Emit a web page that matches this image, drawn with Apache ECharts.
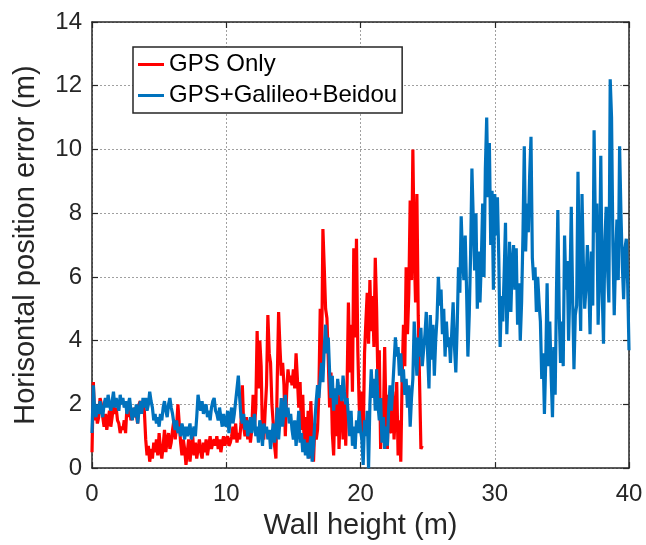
<!DOCTYPE html>
<html>
<head>
<meta charset="utf-8">
<script src="https://cdn.jsdelivr.net/npm/echarts@6/dist/echarts.min.js"></script>
<style>
html,body{margin:0;padding:0;background:#fff;}
#chart{width:646px;height:545px;}
</style>
</head>
<body>
<div id="chart"></div>
<script>
// Wall height sampling step (m)
const wallHeightStep = 0.1;

const seriesNames = ['GPS Only', 'GPS+Galileo+Beidou'];

// Horizontal position error (m), GPS only, wall height 0 .. 24.6 m
const gpsOnly = [
  0.5, 2.7, 1.5, 1.8, 1.4, 1.6, 2.2, 2.0, 1.6, 1.3,
  1.7, 1.2, 1.5, 1.8, 1.3, 1.6, 2.0, 1.7, 1.9, 1.5,
  1.4, 1.1, 1.3, 1.2, 1.5, 1.1, 1.9, 1.6, 2.0, 1.5,
  1.8, 1.6, 1.9, 1.7, 1.4, 2.0, 2.1, 1.9, 2.0, 1.8,
  0.9, 0.4, 0.7, 0.2, 0.6, 0.3, 0.8, 0.5, 0.9, 0.4,
  1.1, 0.6, 0.3, 0.7, 1.2, 0.5, 0.9, 1.1, 0.6, 0.8,
  1.2, 1.5, 0.9, 1.3, 2.0, 1.4, 0.8, 0.4, 0.9, 0.6,
  0.1, 0.5, 0.9, 0.2, 0.7, 1.0, 0.4, 0.8, 0.3, 0.6,
  0.9, 0.5, 0.3, 0.8, 0.5, 0.9, 0.4, 0.7, 1.0, 0.6,
  0.8, 0.9, 0.7, 1.0, 0.6, 0.9, 0.5, 0.8, 1.0, 0.7,
  0.9, 1.0, 0.7, 0.8, 1.0, 1.3, 0.9, 1.4, 0.8, 1.1,
  0.9, 1.4, 2.6, 1.3, 1.0, 1.6, 0.9, 1.5, 0.8, 1.2,
  2.3, 1.3, 1.9, 4.3, 2.5, 4.0, 3.2, 1.0, 0.9, 1.8,
  2.6, 4.8, 3.6, 3.3, 2.0, 1.4, 0.7, 0.3, 2.8, 4.9,
  3.8, 2.9, 3.3, 2.6, 1.0, 2.4, 3.1, 2.7, 2.9, 2.6,
  3.1, 2.5, 3.6, 2.8, 1.9, 2.7, 1.2, 2.3, 0.8, 1.6,
  0.5, 1.8, 0.3, 2.1, 1.0, 0.2, 1.4, 0.9, 1.2, 2.4,
  5.0, 3.2, 7.5, 6.3, 5.0, 4.7, 3.4, 1.9, 3.0, 1.1,
  0.4, 2.2, 1.0, 2.7, 0.6, 1.8, 2.5, 0.9, 2.1, 0.7,
  2.6, 5.2, 3.0, 4.5, 2.4, 6.9, 4.1, 7.2, 3.7, 2.0,
  1.1, 2.4, 0.8, 3.6, 4.6, 5.5, 3.9, 5.9, 4.3, 5.4,
  3.8, 6.6, 5.0, 2.6, 3.7, 0.6, 2.2, 1.4, 3.8, 1.6,
  0.6, 2.3, 1.2, 1.1, 2.4, 0.9, 1.8, 2.7, 0.4, 1.5,
  0.2, 2.8, 4.5, 3.2, 6.3, 4.2, 5.5, 8.4, 5.9, 10.0,
  6.9, 5.2, 8.6, 4.8, 2.7, 0.6, 0.7
];

// Horizontal position error (m), GPS+Galileo+Beidou, wall height 0 .. 40 m
const gpsGalBei = [
  1.1, 2.6, 1.8, 1.6, 2.0, 1.7, 2.1, 1.8, 1.6, 2.0,
  2.2, 1.9, 2.3, 2.0, 1.8, 2.1, 2.4, 1.9, 2.2, 2.0,
  1.8, 2.3, 2.0, 2.2, 1.9, 2.1, 1.7, 2.0, 2.2, 1.8,
  1.5, 1.9, 1.6, 2.0, 1.4, 1.8, 2.1, 1.7, 2.2, 1.9,
  2.2, 1.8, 2.0, 2.4, 2.1, 1.9, 1.5, 1.7, 1.4, 1.6,
  1.3, 1.7, 1.5, 1.9, 2.1, 1.8, 1.6, 2.0, 2.2, 1.9,
  1.7, 1.4, 1.2, 1.5, 1.1, 1.3, 1.0, 1.4, 1.2, 0.9,
  1.3, 1.0, 1.2, 1.4, 0.9, 1.1, 1.3, 1.0, 1.6, 2.3,
  2.0, 1.8, 2.1, 1.7, 1.9, 2.0, 1.6, 1.8, 1.5, 1.9,
  2.1, 2.2, 1.8, 1.7, 1.5, 1.9, 1.6, 1.3, 1.7, 1.4,
  1.3, 1.8, 1.1, 1.6, 1.9, 1.4, 1.7, 2.1, 2.5, 2.9,
  2.2, 1.6, 1.4, 1.7, 1.2, 1.5, 1.0, 1.3, 1.6, 1.1,
  1.4, 1.7, 1.0, 1.3, 0.8, 1.5, 1.2, 0.7, 1.4, 1.1,
  1.3, 0.9, 1.2, 0.6, 1.0, 1.4, 0.8, 1.2, 1.9, 0.9,
  1.5, 2.2, 1.3, 1.8, 2.3, 1.6, 1.9, 1.4, 1.7, 1.2,
  0.9, 1.5, 0.7, 1.2, 1.8, 0.8, 1.1, 0.5, 0.9, 0.4,
  0.8, 0.3, 0.6, 1.0, 0.2, 0.7, 1.5, 2.1, 2.6, 2.2,
  2.8, 3.3, 2.7, 3.8, 4.5, 3.6, 4.1, 3.0, 2.2, 2.9,
  1.8, 2.5, 2.0, 2.8, 2.3, 2.6, 2.1, 2.9, 2.4, 2.0,
  2.2, 1.6, 1.0, 1.8, 0.7, 1.3, 0.6, 1.5, 1.1, 1.8,
  1.2, 0.9, 0.1, 1.5, 1.0, 1.8, 0.0, 2.0, 3.1, 2.2,
  2.8, 1.8, 3.1, 2.0, 1.5, 2.2, 0.8, 1.6, 0.6, 1.3,
  0.7, 1.9, 2.6, 1.8, 2.5, 3.3, 4.1, 3.5, 3.8, 2.9,
  3.6, 2.7, 3.1, 2.3, 2.8, 1.9, 2.6, 1.3, 2.2, 2.8,
  4.6, 3.8, 2.9, 4.1, 3.5, 4.4, 3.2, 3.7, 4.2, 4.9,
  3.6, 2.5, 4.8, 3.4, 4.5, 2.9, 4.0, 4.7, 6.0, 5.1,
  5.6, 4.2, 5.0, 3.5, 4.6, 3.8, 4.1, 3.3, 4.3, 5.2,
  3.8, 3.0, 4.4, 6.3, 5.5, 7.9, 6.6, 5.9, 7.3, 5.6,
  3.5, 4.8, 6.7, 9.4, 7.8, 6.2, 8.0, 5.0, 6.8, 5.2,
  6.5, 8.3, 6.0, 9.4, 11.0, 8.5, 10.2, 7.0, 8.7, 5.6,
  8.6, 7.3, 8.5, 6.6, 3.8, 5.4, 4.6, 6.1, 7.7, 4.2,
  5.5, 7.1, 4.9, 6.4, 7.0, 5.6, 6.9, 4.5, 5.8, 4.0,
  5.2, 7.3, 10.1, 6.8, 8.3, 7.4, 9.2, 10.4, 6.6, 5.9,
  6.3, 4.9, 6.0, 5.2, 4.6, 2.8, 3.6, 1.7, 3.4, 5.8,
  3.2, 4.6, 2.9, 1.6, 3.8, 2.3, 5.6, 8.1, 4.9, 3.3,
  4.6, 3.2, 7.3, 5.6, 6.5, 4.0, 5.7, 8.2, 5.4, 3.1,
  4.8, 5.1, 9.3, 6.2, 4.3, 8.6, 6.4, 5.0, 5.7, 7.0,
  5.9, 4.2, 6.8, 5.1, 10.6, 7.4, 8.3, 4.5, 6.1, 9.8,
  5.6, 3.9, 7.1, 8.2, 6.3, 5.2, 12.2, 11.0, 7.0, 4.8,
  6.6, 7.8, 5.9, 10.1, 8.0, 6.4, 5.3, 6.9, 7.2, 5.8,
  3.7
];

const xTicks = [0, 10, 20, 30, 40];
const yTicks = [0, 2, 4, 6, 8, 10, 12, 14];

function toPairs(arr) {
  return arr.map((v, i) => [Math.round(i * wallHeightStep * 10) / 10, v]);
}

const FONT = "'Liberation Sans', Arial, sans-serif";
const AX = '#262626';

const chart = echarts.init(document.getElementById('chart'), null, {renderer: 'canvas'});

const gridLine = {show: true, lineStyle: {color: '#a0a0a0', type: [2, 2], width: 1}};

chart.setOption({
  animation: false,
  backgroundColor: '#ffffff',
  grid: {left: 92, right: 17, top: 22, bottom: 76, containLabel: false},
  legend: {
    data: seriesNames,
    orient: 'vertical',
    left: 133,
    top: 47,
    padding: [5.5, 5, 5.5, 5],
    itemGap: 7,
    itemWidth: 26,
    itemHeight: 3,
    icon: 'rect',
    borderColor: AX,
    borderWidth: 1.5,
    backgroundColor: '#ffffff',
    textStyle: {fontFamily: FONT, fontSize: 24, color: '#000'}
  },
  xAxis: [{
    type: 'value', min: xTicks[0], max: xTicks[xTicks.length - 1], interval: 10,
    name: 'Wall height (m)', nameLocation: 'middle', nameGap: 42,
    nameTextStyle: {fontFamily: FONT, fontSize: 29, color: AX},
    axisLine: {show: true, onZero: false, lineStyle: {color: AX, width: 1.5}},
    axisTick: {show: true, inside: true, length: 6, lineStyle: {color: AX, width: 1.2}},
    axisLabel: {fontFamily: FONT, fontSize: 24, color: AX, margin: 14},
    splitLine: gridLine
  }, {
    type: 'value', position: 'top', min: xTicks[0], max: xTicks[xTicks.length - 1], interval: 10,
    axisLine: {show: true, onZero: false, lineStyle: {color: AX, width: 1.5}},
    axisTick: {show: true, inside: true, length: 6, lineStyle: {color: AX, width: 1.2}},
    axisLabel: {show: false},
    splitLine: {show: false}
  }],
  yAxis: [{
    type: 'value', min: yTicks[0], max: yTicks[yTicks.length - 1], interval: 2,
    name: 'Horisontal position error (m)', nameLocation: 'middle', nameGap: 52, nameRotate: 90,
    nameTextStyle: {fontFamily: FONT, fontSize: 29, color: AX},
    axisLine: {show: true, onZero: false, lineStyle: {color: AX, width: 1.5}},
    axisTick: {show: true, inside: true, length: 6, lineStyle: {color: AX, width: 1.2}},
    axisLabel: {fontFamily: FONT, fontSize: 24, color: AX, margin: 10},
    splitLine: gridLine
  }, {
    type: 'value', position: 'right', min: yTicks[0], max: yTicks[yTicks.length - 1], interval: 2,
    axisLine: {show: true, onZero: false, lineStyle: {color: AX, width: 1.5}},
    axisTick: {show: true, inside: true, length: 6, lineStyle: {color: AX, width: 1.2}},
    axisLabel: {show: false},
    splitLine: {show: false}
  }],
  series: [{
    name: seriesNames[0],
    type: 'line',
    data: toPairs(gpsOnly),
    showSymbol: false,
    symbol: 'none',
    color: '#ff0000',
    lineStyle: {color: '#ff0000', width: 3.2},
    itemStyle: {color: '#ff0000'},
    z: 2
  }, {
    name: seriesNames[1],
    type: 'line',
    data: toPairs(gpsGalBei),
    showSymbol: false,
    symbol: 'none',
    color: '#0072bd',
    lineStyle: {color: '#0072bd', width: 3.2},
    itemStyle: {color: '#0072bd'},
    z: 3
  }]
});
</script>
</body>
</html>
